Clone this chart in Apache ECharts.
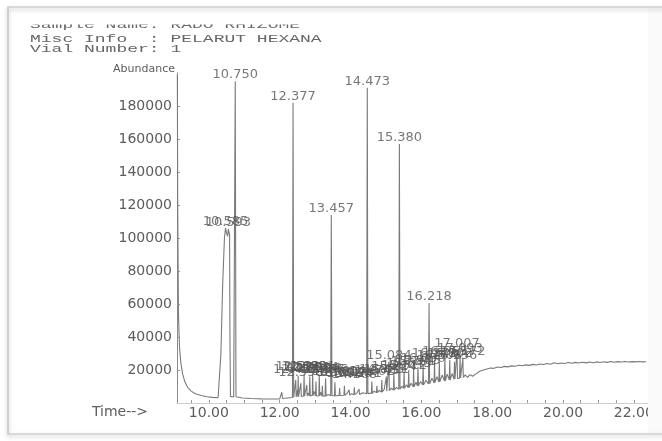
<!DOCTYPE html>
<html>
<head>
<meta charset="utf-8">
<script src="https://cdn.jsdelivr.net/npm/echarts@6/dist/echarts.min.js"></script>
<style>html,body{margin:0;padding:0;background:#fff;}#c{width:662px;height:441px;}</style>
</head>
<body>
<div id="c"></div>
<script>
// Header lines
const headerLines = ["Sample Name: RADO RHIZOME", "Misc Info  : PELARUT HEXANA", "Vial Number: 1"];
// Axis ticks
const xTickLabels = [10, 12, 14, 16, 18, 20, 22];
const xMinorTicks = [9.5, 10, 10.5, 11, 11.5, 12, 12.5, 13, 13.5, 14, 14.5, 15, 15.5, 16, 16.5, 17, 17.5, 18, 18.5, 19, 19.5, 20, 20.5, 21, 21.5, 22];
const yTickLabels = [20000, 40000, 60000, 80000, 100000, 120000, 140000, 160000, 180000];

// Total ion chromatogram trace: [time (min), abundance]
const trace = [
[9.11,199000],[9.12,120000],[9.14,55000],[9.17,34000],[9.21,24000],[9.26,17500],[9.32,13000],[9.40,9500],[9.50,7200],[9.62,5600],[9.78,4500],[9.95,3800],[10.10,3400],[10.26,3200],
[10.30,4000],[10.34,30000],[10.39,72000],[10.44,100000],[10.47,106000],[10.50,103000],[10.53,101000],[10.55,105500],[10.585,102000],[10.595,40000],[10.61,4000],
[10.70,3600],[10.735,3800],[10.745,195000],[10.765,3800],[10.80,3400],[10.95,3000],[11.2,2700],[11.5,2500],[11.8,2400],[12.0,2500],[12.04,2600],[12.06,6500],[12.08,2700],[12.20,3000],[12.30,3200],[12.36,3300],
[12.377,182000],[12.395,3400],[12.44,3600],[12.453,14000],[12.465,3700],[12.49,4200],[12.50,8000],[12.51,3800],[12.521,16500],[12.533,3800],[12.585,4000],[12.598,12000],[12.61,3900],[12.64,5000],[12.675,4200],[12.689,17500],[12.70,4100],[12.75,4300],[12.764,11000],[12.776,4200],[12.80,6000],[12.835,4400],[12.85,16000],[12.862,4300],[12.92,4500],[12.931,18000],[12.943,4400],[12.97,7000],[13.01,4300],[13.024,13000],[13.036,4200],[13.105,4400],[13.118,17000],[13.13,4300],[13.16,6500],[13.19,4200],[13.205,10500],[13.217,4100],[13.28,4300],[13.296,15000],[13.31,4200],[13.37,5200],
[13.44,4400],[13.457,114000],[13.475,4500],[13.51,5600],[13.545,4300],[13.56,12500],[13.572,4400],[13.62,5600],[13.68,4600],[13.692,9000],[13.704,4500],[13.76,5200],[13.815,4700],[13.827,10500],[13.84,4600],[13.90,5800],[13.945,4800],[13.96,8000],[13.972,4900],[14.03,5600],[14.095,5000],[14.108,9500],[14.12,5100],[14.18,6000],[14.228,5300],[14.241,8500],[14.254,5200],[14.35,6200],
[14.455,5600],[14.473,191000],[14.49,5700],[14.53,6800],[14.59,6000],[14.602,13000],[14.615,5900],[14.67,7200],[14.73,6300],[14.745,10500],[14.757,6200],[14.81,7600],[14.87,6600],[14.883,14000],[14.895,6700],[14.95,8200],[15.0,7000],[15.011,16000],[15.022,7100],[15.072,7300],[15.084,25000],[15.096,7400],[15.15,9000],[15.21,7800],[15.224,18000],[15.236,7900],[15.30,9500],
[15.362,8300],[15.38,157000],[15.397,8400],[15.45,10200],[15.50,8800],[15.512,19000],[15.524,8900],[15.58,11000],[15.63,9300],[15.643,20000],[15.655,9400],[15.71,12000],[15.77,9800],[15.781,21000],[15.793,9900],[15.85,12600],[15.89,10300],[15.905,22000],[15.917,10400],[15.98,13000],[16.038,10900],[16.05,23000],[16.062,11000],[16.13,13800],
[16.20,11500],[16.218,60600],[16.235,11600],[16.30,15000],[16.36,12200],[16.372,26000],[16.384,12300],[16.44,16000],[16.495,12700],[16.508,25000],[16.52,12800],[16.59,17000],[16.652,13300],[16.665,27000],[16.677,13400],[16.73,17500],[16.79,13900],[16.802,26000],[16.814,14000],[16.87,18000],[16.924,14400],[16.936,25000],[16.948,14500],[16.995,14800],[17.007,32000],[17.02,14900],[17.08,15100],[17.093,29000],[17.105,15200],[17.16,15400],[17.172,27000],[17.185,15500],
[17.24,17000],[17.30,15600],[17.38,17200],[17.45,16200],[17.55,17800],[17.65,19200],[17.75,20000],[17.85,20600],[17.95,21200],[18.05,21000],[18.15,21800],[18.25,21500],[18.35,22200],[18.45,21900],[18.55,22500],[18.65,22300],[18.75,22900],[18.85,22600],[18.95,23100],[19.05,22800],[19.15,23400],[19.25,23000],[19.35,23600],[19.45,23300],[19.55,23900],[19.65,23500],[19.75,24400],[19.85,23800],[19.95,24200],[20.05,23900],[20.15,24500],[20.25,24100],[20.35,24600],[20.45,24200],[20.55,24700],[20.65,24300],[20.75,24800],[20.85,24400],[20.95,24900],[21.05,24500],[21.15,25000],[21.25,24600],[21.35,25100],[21.45,24700],[21.55,25100],[21.65,24800],[21.75,25200],[21.85,24800],[21.95,25100],[22.05,24900],[22.15,25200],[22.25,24900],[22.35,25000]
];

// Labelled peaks (retention time, apex abundance, label)
const peakTimes = [10.47, 10.55, 10.745, 12.377, 12.453, 12.521, 12.598, 12.689, 12.764, 12.85, 12.931, 13.024, 13.118, 13.205, 13.296, 13.457, 13.56, 13.692, 13.827, 13.96, 14.108, 14.241, 14.473, 14.602, 14.745, 14.883, 15.011, 15.084, 15.224, 15.38, 15.512, 15.643, 15.781, 15.905, 16.05, 16.218, 16.372, 16.508, 16.665, 16.802, 16.936, 17.007, 17.093, 17.172];
const peakHeights = [106000, 105500, 195000, 182000, 16000, 18000, 14500, 18000, 17500, 17000, 18000, 17500, 17000, 16500, 16500, 114000, 15000, 14500, 14500, 14000, 13500, 14000, 191000, 15000, 15500, 16000, 16500, 25000, 18000, 157000, 19000, 20000, 21000, 22000, 23000, 60600, 26000, 25000, 27000, 26000, 25000, 32000, 29000, 27000];
const peakLabels = ["10.585", "10.593", "10.750", "12.377", "12.453", "12.521", "12.598", "12.689", "12.764", "12.850", "12.931", "13.024", "13.118", "13.205", "13.296", "13.457", "13.560", "13.692", "13.827", "13.960", "14.108", "14.241", "14.473", "14.602", "14.745", "14.883", "15.011", "15.084", "15.224", "15.380", "15.512", "15.643", "15.781", "15.905", "16.050", "16.218", "16.372", "16.508", "16.665", "16.802", "16.936", "17.007", "17.093", "17.172"];

const chart = echarts.init(document.getElementById('c'), null, {renderer: 'canvas'});
const txt = '#5c5c5c';
const headerY = [19, 33, 43];
const headerGraphics = headerLines.map((s, i) => ({
  type: 'text', x: 30, y: headerY[i], scaleY: 0.62, z: 5,
  style: {text: s, font: '18px "Liberation Mono"', fill: '#666', textVerticalAlign: 'top'}
}));
chart.setOption({
  animation: false,
  backgroundColor: '#ffffff',
  grid: {left: 177, right: 14, top: 73, bottom: 38, containLabel: false},
  xAxis: {
    type: 'value', min: 9.1, max: 22.4,
    name: 'Time-->', nameLocation: 'start', nameGap: 29,
    nameTextStyle: {color: txt, fontFamily: 'DejaVu Sans', fontSize: 14, align: 'right', verticalAlign: 'top', padding: [2, 0, 0, 0]},
    axisLine: {show: true, lineStyle: {color: '#cfcfcf', width: 1}},
    axisTick: {show: true, customValues: xMinorTicks, length: 3, inside: true, lineStyle: {color: '#999'}},
    axisLabel: {customValues: xTickLabels, formatter: v => Number(v).toFixed(2), color: txt, fontFamily: 'DejaVu Sans', fontSize: 14, margin: 3},
    splitLine: {show: false}
  },
  yAxis: {
    type: 'value', min: 0, max: 200000,
    name: 'Abundance', nameLocation: 'end', nameGap: -2,
    nameTextStyle: {color: txt, fontFamily: 'DejaVu Sans', fontSize: 11, align: 'right', padding: [0, 2, 0, 0]},
    axisLine: {show: true, lineStyle: {color: '#8a8a8a', width: 1}},
    axisTick: {show: true, customValues: yTickLabels, length: 3, inside: true, lineStyle: {color: '#999'}},
    axisLabel: {customValues: yTickLabels, formatter: v => String(v), color: txt, fontFamily: 'DejaVu Sans', fontSize: 14, margin: 5},
    splitLine: {show: false}
  },
  series: [
    {
      type: 'line', data: trace, symbol: 'none', silent: true,
      lineStyle: {color: '#7a7a7a', width: 1.1}, z: 2
    },
    {
      type: 'scatter', symbolSize: 0, silent: true, z: 3,
      data: peakTimes.map((t, i) => [t, peakHeights[i]]),
      label: {
        show: true, position: 'top', distance: 0,
        formatter: p => peakLabels[p.dataIndex],
        color: '#555', fontFamily: 'DejaVu Sans', fontSize: 13
      },
      labelLayout: {hideOverlap: false}
    }
  ],
  graphic: [
    ...headerGraphics,
    {type: 'rect', z: 6, shape: {x: 20, y: 8, width: 620, height: 16.5}, style: {fill: '#ffffff'}},
    {type: 'rect', z: 7, shape: {x: 648, y: 8, width: 14, height: 425}, style: {fill: '#fafafa'}},
    {type: 'rect', z: 8, shape: {x: 8, y: 7, width: 670, height: 427}, style: {fill: 'none', stroke: '#bdbdbd', lineWidth: 1.2, shadowBlur: 4, shadowColor: 'rgba(0,0,0,0.35)', shadowOffsetY: 2}}
  ]
});
</script>
</body>
</html>
